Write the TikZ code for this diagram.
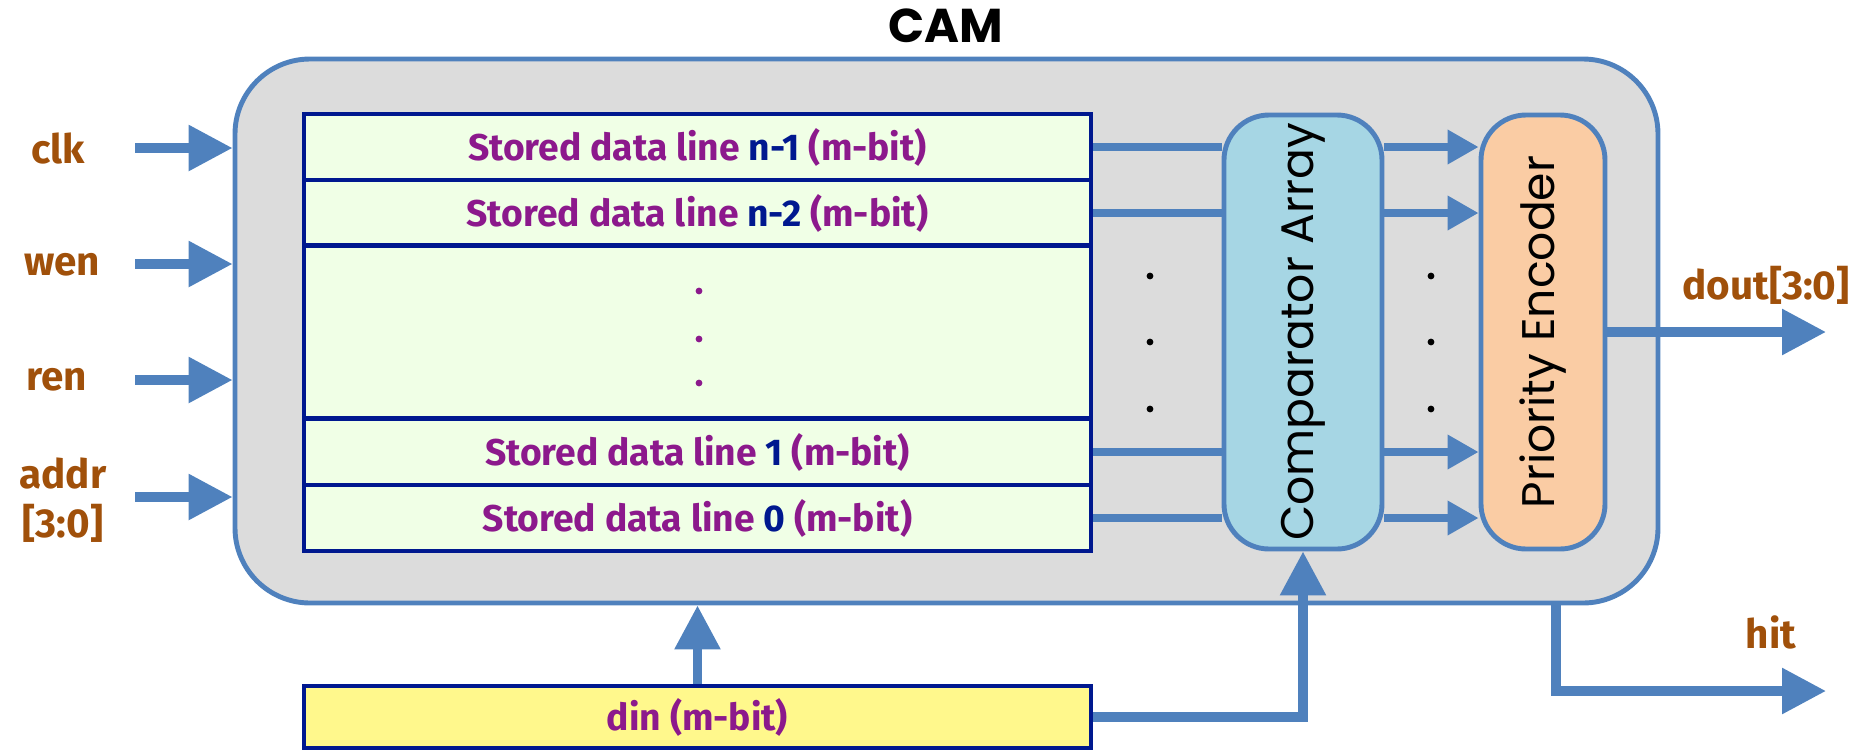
\documentclass[tikz,border=0pt]{standalone}
\usepackage{fontspec}
\usepackage{tikz}
\usetikzlibrary{arrows.meta}
\setmainfont{Fira Sans}
\newfontfamily\gothic{Poppins}
\definecolor{camblue}{RGB}{79,129,189}
\definecolor{camgray}{RGB}{220,220,220}
\definecolor{slotgreen}{RGB}{240,255,230}
\definecolor{slotnavy}{RGB}{0,24,143}
\definecolor{slotpurple}{RGB}{140,25,140}
\definecolor{sigbrown}{RGB}{160,80,10}
\definecolor{compfill}{RGB}{166,214,228}
\definecolor{encfill}{RGB}{250,204,164}
\definecolor{dinfill}{RGB}{255,248,140}
\tikzset{
    cambox/.style={draw=camblue, line width=1.4pt, fill=camgray, rounded corners=0.75cm,
        minimum width=14.23cm, minimum height=5.44cm}, % CAM 外框
    slot/.style={draw=slotnavy, line width=1.3pt, fill=slotgreen, inner sep=0pt,
        minimum width=7.87cm, minimum height=0.66cm, text=slotpurple,
        font=\fontsize{10.6}{12}\selectfont\bfseries}, % 存储行
    unit/.style={draw=camblue, line width=1.4pt, rounded corners=0.45cm, inner sep=0pt,
        minimum width=4.34cm, rotate=90, font=\gothic\fontsize{13}{15}\selectfont}, % 竖直模块
    sig/.style={text=sigbrown, font=\fontsize{11.5}{14}\selectfont\bfseries, align=center}, % 端口名
    sigarrow/.style={draw=camblue, line width=2.6pt, -{Triangle[length=0.44cm, width=0.44cm]}},
    rowline/.style={draw=camblue, line width=2pt},
    rowarrow/.style={rowline, -{Triangle[length=0.31cm, width=0.33cm]}}
}
\begin{document}
\begin{tikzpicture}
    \useasboundingbox (0,0) rectangle (18.64,-7.5);

    \node[cambox] (cam) at (9.465,-3.31) {};
    \node[font=\gothic\fontsize{13.5}{15}\selectfont\bfseries] (title) at (9.46,-0.26) {CAM};

    % 存储的数据行
    \foreach \name/\y/\idx in {r1/1.47/n-1, r2/2.13/n-2, r3/4.52/1, r4/5.18/0} {
        \node[slot] (\name) at (6.975,-\y) {Stored data line \textcolor{slotnavy}{\idx} (m-bit)};
    }
    \node[slot, minimum height=1.73cm] (gap) at (6.975,-3.32) {};
    \foreach \y in {2.91, 3.39, 3.83} {
        \fill[slotpurple] (6.99,-\y) circle (0.034);
    }

    % 旋转后 north 在左, south 在右, west 在下
    \node[unit, fill=compfill, minimum height=1.58cm] (comp) at (13.03,-3.32) {Comparator Array};
    \node[unit, fill=encfill, minimum height=1.24cm] (enc) at (15.43,-3.32) {Priority Encoder};

    \foreach \name in {r1, r2, r3, r4} {
        \draw[rowline] (\name.east) -- (\name.east -| comp.north);
        \draw[rowarrow] (\name.east -| comp.south) -- (\name.east -| enc.north);
    }
    \foreach \y in {2.76, 3.42, 4.09} {
        \fill (11.50,-\y) circle (0.034);
        \fill (14.31,-\y) circle (0.034);
    }

    % 输入端口
    \foreach \name/\y in {clk/1.48, wen/2.64, ren/3.80, addr/4.97} {
        \coordinate (\name-in) at (1.35,-\y);
        \draw[sigarrow] (\name-in) -- (\name-in -| cam.west);
    }
    \node[sig] (clk) at (0.58,-1.48) {clk};
    \node[sig] (wen) at (0.62,-2.65) {wen};
    \node[sig] (ren) at (0.57,-3.80) {ren};
    \node[sig] (addr) at (0.63,-5.0) {addr\\{}[3:0]};

    % 输出端口
    \coordinate (dout-out) at (18.26,-3.32);
    \draw[sigarrow] (enc.south) -- (dout-out);
    \node[sig] (dout) at (17.66,-2.85) {dout[3:0]};

    \coordinate (hit-tap) at (15.56,-6.03);
    \coordinate (hit-out) at (18.26,-6.91);
    \draw[sigarrow] (hit-tap) |- (hit-out);
    \node[sig] (hit) at (17.71,-6.32) {hit};

    % 输入数据
    \node[slot, fill=dinfill, minimum height=0.62cm] (din) at (6.975,-7.17) {din (m-bit)};
    \draw[sigarrow] (din.north) -- (din.north |- cam.south);
    \draw[sigarrow] (din.east) -| (comp.west);
\end{tikzpicture}
\end{document}
